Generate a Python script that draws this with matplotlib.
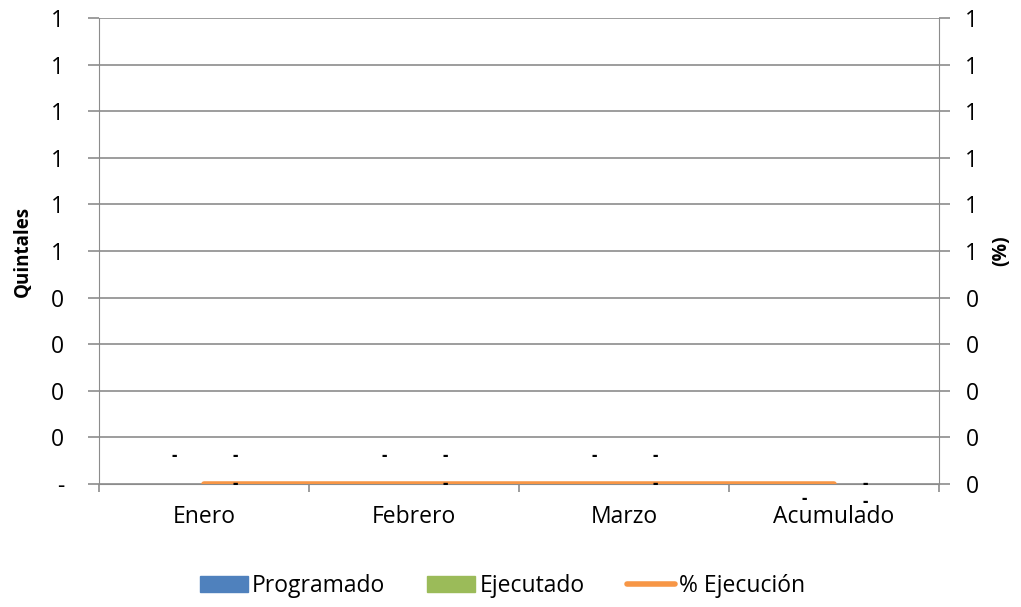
import matplotlib.pyplot as plt
from matplotlib.ticker import FuncFormatter, MultipleLocator
from matplotlib.lines import Line2D
from matplotlib.patches import Patch
import numpy as np
import math

plt.rcParams['font.family'] = ['Open Sans', 'DejaVu Sans']

meses = ['Enero', 'Febrero', 'Marzo', 'Acumulado']
programado = [0, 0, 0, 0]
ejecutado = [0, 0, 0, 0]
pct_ejecucion = [0, 0, 0, 0]

azul = '#4F81BD'
verde = '#9BBB59'
naranja = '#F79646'
gris = '#8C8C8C'


def redondeo(v):
    return int(math.floor(abs(v) + 0.5 + 1e-9)) * (1 if v >= 0 else -1)


def fmt_izq(v, pos=None):
    # formato tipo Excel: el cero exacto se muestra como "-"
    if abs(v) < 1e-12:
        return '-'
    return f'{redondeo(v):,}'


def fmt_der(v, pos=None):
    return f'{redondeo(v)}'


fig = plt.figure(figsize=(10.21, 6.07), dpi=100)
ax = fig.add_axes([99 / 1021, 123 / 607, 840 / 1021, 466 / 607])
ax2 = ax.twinx()

x = np.arange(len(meses))
ancho = 0.28
ax.bar(x - 0.145, programado, ancho, color=azul)
ax.bar(x + 0.145, ejecutado, ancho, color=verde)
ax2.plot(x, pct_ejecucion, color=naranja, lw=4, solid_capstyle='round', zorder=5)

for a in (ax, ax2):
    a.set_ylim(0, 1)
    a.yaxis.set_major_locator(MultipleLocator(0.1))
    a.set_xlim(-0.5, len(meses) - 0.5)
    for s in a.spines.values():
        s.set_visible(False)

ax.yaxis.set_major_formatter(FuncFormatter(fmt_izq))
ax2.yaxis.set_major_formatter(FuncFormatter(fmt_der))
ax.grid(axis='y', color=gris, lw=1.2)
ax.set_axisbelow(True)
ax.spines['left'].set_visible(True)
ax.spines['left'].set_color(gris)
ax.spines['bottom'].set_visible(True)
ax.spines['bottom'].set_color(gris)
ax2.spines['right'].set_visible(True)
ax2.spines['right'].set_color(gris)

fs = 16.5
ax.set_xticks(x)
ax.set_xticklabels(meses)
ax.set_xticks(np.arange(len(meses) + 1) - 0.5, minor=True)
ax.tick_params(axis='x', which='major', length=0, labelsize=fs, pad=15)
ax.tick_params(axis='x', which='minor', length=6, color=gris, width=1.2)
ax.tick_params(axis='y', length=8, color=gris, width=1.2, labelsize=fs, pad=17)
ax2.tick_params(axis='y', length=8, color=gris, width=1.2, labelsize=fs, pad=11)
ax.set_ylabel('Quintales', fontsize=13.5, fontweight='bold', labelpad=13)
ax2.set_ylabel('(%)', fontsize=14, fontweight='bold', labelpad=9)

# etiquetas de datos
for i in range(len(meses)):
    ultimo = i == len(meses) - 1
    dy_p = -15 if ultimo else 28
    dy_e = -18 if ultimo else 28
    ax.annotate(fmt_izq(programado[i]), (x[i] - 0.14, programado[i]), xytext=(0, dy_p),
                textcoords='offset pixels', ha='center', va='center', fontsize=12,
                fontweight='bold', zorder=7)
    ax.annotate(fmt_izq(ejecutado[i]), (x[i] + 0.15, ejecutado[i]), xytext=(0, dy_e),
                textcoords='offset pixels', ha='center', va='center', fontsize=12,
                fontweight='bold', zorder=7)
    ax2.annotate(fmt_izq(pct_ejecucion[i]), (x[i] + 0.15, pct_ejecucion[i]), xytext=(0, 0),
                 textcoords='offset pixels', ha='center', va='center', fontsize=12,
                 fontweight='bold', zorder=7)

handles = [Patch(color=azul), Patch(color=verde),
           Line2D([], [], color=naranja, lw=4, solid_capstyle='round')]
fig.legend(handles, ['Programado', 'Ejecutado', '% Ejecución'], loc='center',
           bbox_to_anchor=(0.492, 21 / 607), ncol=3, frameon=False, fontsize=fs,
           handlelength=2.1, handletextpad=0.17, columnspacing=1.85)

fig.savefig('out.png', dpi=100)
